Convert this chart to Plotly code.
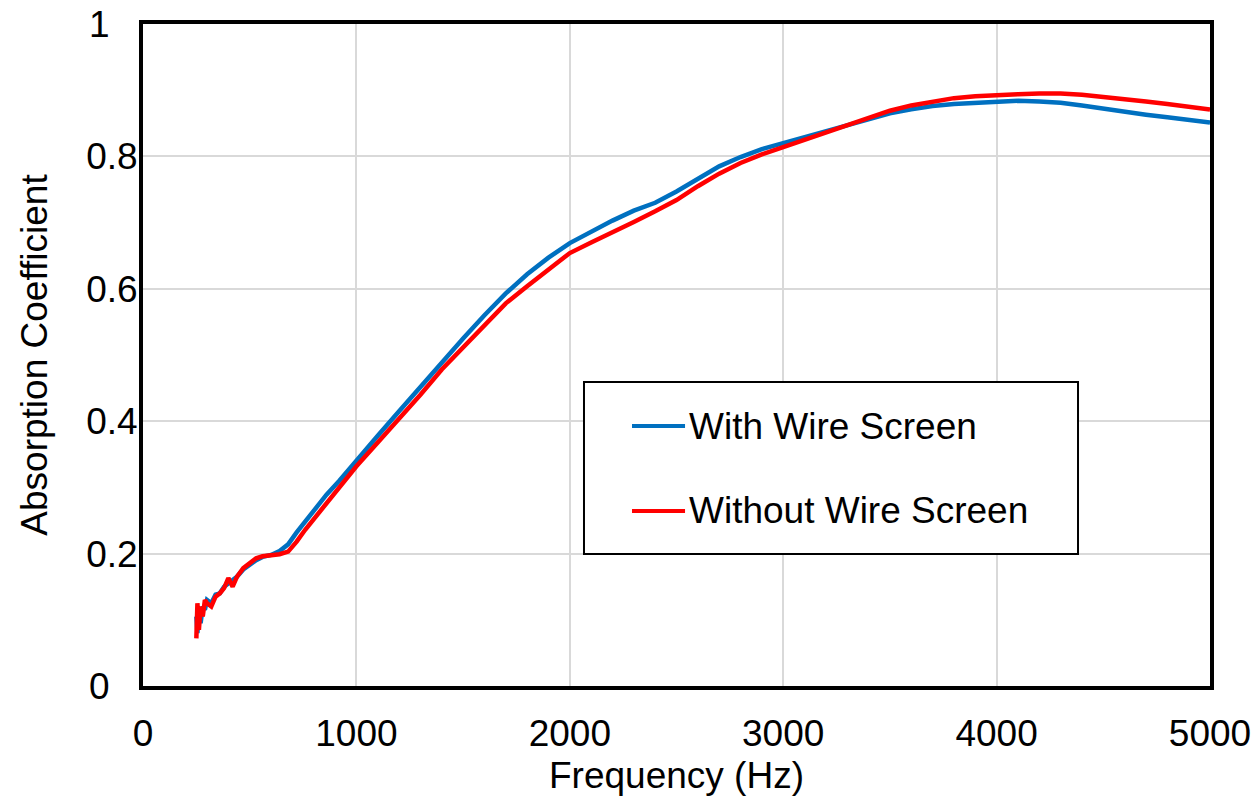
import plotly.graph_objects as go

# Measured sound absorption coefficient vs frequency
freq_hz = [250, 255, 262, 270, 280, 290, 300, 320, 340, 360, 380, 400, 420, 440,
           470, 500, 530, 560, 600, 640, 680, 720, 760, 800, 860, 920, 1000,
           1100, 1200, 1300, 1400, 1500, 1600, 1700, 1800, 1900, 2000, 2100,
           2200, 2300, 2400, 2500, 2600, 2700, 2800, 2900, 3000, 3100, 3200,
           3300, 3400, 3500, 3600, 3700, 3800, 3900, 4000, 4100, 4200, 4300,
           4400, 4500, 4600, 4700, 4800, 4900, 5000]

with_screen = [0.105, 0.080, 0.110, 0.095, 0.120, 0.115, 0.130, 0.125, 0.138,
               0.140, 0.150, 0.155, 0.158, 0.165, 0.176, 0.184, 0.190, 0.195,
               0.198, 0.204, 0.214, 0.232, 0.249, 0.265, 0.289, 0.310, 0.341,
               0.378, 0.415, 0.452, 0.490, 0.525, 0.560, 0.593, 0.622, 0.647,
               0.669, 0.686, 0.703, 0.718, 0.730, 0.747, 0.766, 0.785, 0.799,
               0.811, 0.820, 0.829, 0.838, 0.848, 0.857, 0.865, 0.871, 0.876,
               0.879, 0.881, 0.883, 0.884, 0.883, 0.881, 0.877, 0.872, 0.868,
               0.863, 0.859, 0.855, 0.851]

without_screen = [0.072, 0.125, 0.085, 0.120, 0.105, 0.130, 0.125, 0.120, 0.135,
                  0.140, 0.148, 0.163, 0.150, 0.165, 0.178, 0.185, 0.193, 0.196,
                  0.198, 0.199, 0.203, 0.218, 0.236, 0.252, 0.276, 0.300, 0.332,
                  0.368, 0.403, 0.440, 0.478, 0.511, 0.546, 0.578, 0.604, 0.629,
                  0.654, 0.670, 0.685, 0.701, 0.717, 0.734, 0.755, 0.774, 0.790,
                  0.803, 0.814, 0.825, 0.836, 0.847, 0.858, 0.869, 0.877, 0.883,
                  0.888, 0.891, 0.893, 0.894, 0.895, 0.895, 0.893, 0.890, 0.887,
                  0.883, 0.879, 0.875, 0.871]

series_names = ["With Wire Screen", "Without Wire Screen"]
series_colors = ["#0070C0", "#FF0000"]

x_ticks = [0, 1000, 2000, 3000, 4000, 5000]
y_ticks = [0, 0.2, 0.4, 0.6, 0.8, 1]
y_tick_text = ["0", "0.2", "0.4", "0.6", "0.8", "1"]

FONT = "Liberation Sans, Arial, sans-serif"
FONT_SIZE = 37

fig = go.Figure()
for name, ys, color in zip(series_names, [with_screen, without_screen], series_colors):
    fig.add_trace(go.Scatter(x=freq_hz, y=ys, mode="lines", name=name,
                             line=dict(color=color, width=4.5),
                             showlegend=False))

axis_common = dict(showgrid=True, gridcolor="#D9D9D9", gridwidth=2,
                   showline=True, linecolor="black", linewidth=4, mirror=True,
                   ticks="", zeroline=False, automargin=False,
                   tickfont=dict(family=FONT, size=FONT_SIZE, color="black"))

# whole-number labels sit a little further out than the decimal ones
pad = "\u00a0\u00a0\u2009"
y_tick_labels = [t + pad if "." not in t else t for t in y_tick_text]

fig.update_xaxes(range=[0, 5000], tickvals=x_ticks, ticklabelstandoff=12,
                 title=dict(text="Frequency (Hz)", standoff=10,
                            font=dict(family=FONT, size=FONT_SIZE, color="black")),
                 **axis_common)
fig.update_yaxes(range=[0, 1], tickvals=y_ticks, ticktext=y_tick_labels,
                 ticklabelstandoff=-6,
                 title=dict(text="Absorption Coefficient", standoff=28,
                            font=dict(family=FONT, size=FONT_SIZE, color="black")),
                 **axis_common)

# Legend box drawn in paper coordinates
box = dict(x0=0.4133, x1=0.8763, y0=0.1994, y1=0.4592)
fig.add_shape(type="rect", xref="paper", yref="paper", **box,
              line=dict(color="black", width=2), fillcolor="white", layer="above")
legend_rows = [0.3927, 0.2644]
for name, color, yrow in zip(series_names, series_colors, legend_rows):
    fig.add_shape(type="line", xref="paper", yref="paper",
                  x0=0.4583, x1=0.5080, y0=yrow, y1=yrow,
                  line=dict(color=color, width=4), layer="above")
    fig.add_annotation(xref="paper", yref="paper", x=0.5100, y=yrow,
                       text=name, showarrow=False, xanchor="left", yanchor="middle",
                       font=dict(family=FONT, size=FONT_SIZE, color="black"))

fig.update_layout(width=1253, height=802,
                  margin=dict(l=143, r=43, t=24, b=116),
                  plot_bgcolor="white", paper_bgcolor="white",
                  font=dict(family=FONT, color="black"))

fig.write_html("out.html")
